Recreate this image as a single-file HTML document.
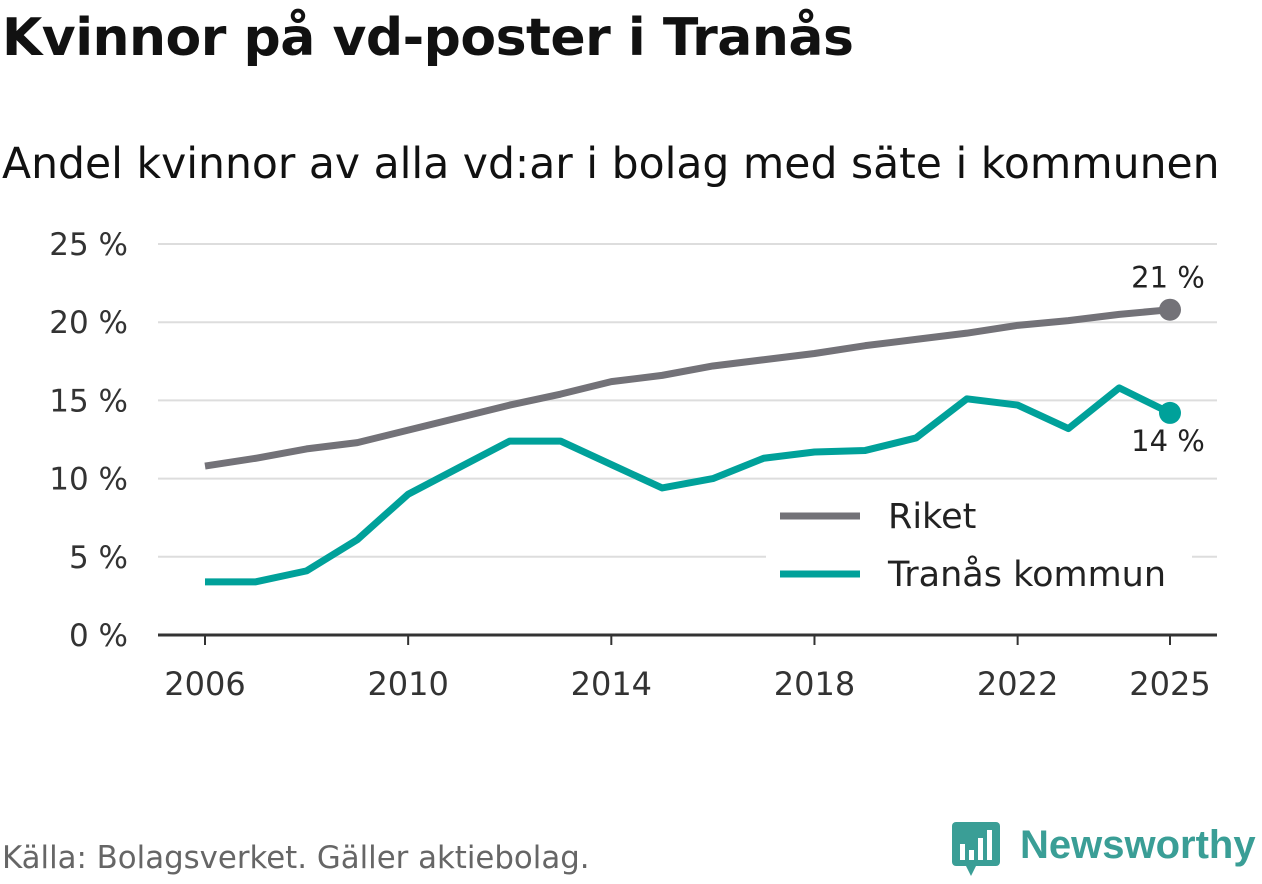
<!DOCTYPE html>
<html><head><meta charset="utf-8"><style>
body{margin:0;width:1262px;height:879px;background:#fff;font-family:"DejaVu Sans","Liberation Sans",sans-serif;overflow:hidden;position:relative}
#title{position:absolute;left:2px;top:8px;font-size:52px;font-weight:bold;color:#111;letter-spacing:-0.5px}
#sub{position:absolute;left:2px;top:140px;font-size:42.5px;color:#111}
#src{position:absolute;left:2px;top:840px;font-size:30.8px;color:#666}
#logo{position:absolute;left:952px;top:820px}
</style></head><body>
<div id="title">Kvinnor på vd-poster i Tranås</div>
<div id="sub">Andel kvinnor av alla vd:ar i bolag med säte i kommunen</div>
<svg id="chart" width="1262" height="879" style="position:absolute;left:0;top:0"></svg>
<div id="src">Källa: Bolagsverket. Gäller aktiebolag.</div>
<div id="logo">
<svg width="310" height="60"><rect x="0" y="2" width="48" height="44" rx="4" fill="#3a9e96"/><polygon points="14,46 24,46 19,56" fill="#3a9e96"/>
<rect x="8" y="24" width="5" height="16" fill="#fff"/><rect x="17" y="30" width="5" height="10" fill="#fff"/><rect x="26" y="18" width="5" height="22" fill="#fff"/><rect x="35" y="10" width="5" height="30" fill="#fff"/>
<text x="68" y="38" font-size="40" font-weight="bold" fill="#3a9e96" font-family="Liberation Sans, sans-serif">Newsworthy</text></svg></div>
<script>
const years=[2006,2007,2008,2009,2010,2011,2012,2013,2014,2015,2016,2017,2018,2019,2020,2021,2022,2023,2024,2025];
const riket=[10.8,11.3,11.9,12.3,13.1,13.9,14.7,15.4,16.2,16.6,17.2,17.6,18.0,18.5,18.9,19.3,19.8,20.1,20.5,20.8];
const tranas=[3.4,3.4,4.1,6.1,9.0,10.7,12.4,12.4,10.9,9.4,10.0,11.3,11.7,11.8,12.6,15.1,14.7,13.2,15.8,14.2];
const yTicks=[0,5,10,15,20,25];
const xTicks=[2006,2010,2014,2018,2022,2025];
const svg=document.getElementById('chart');const NS='http://www.w3.org/2000/svg';
const x=v=>205+(v-2006)*(1170-205)/19;
const y=v=>635-v*(635-244)/25;
function mk(t,a,p){const e=document.createElementNS(NS,t);for(const k in a)e.setAttribute(k,a[k]);(p||svg).appendChild(e);return e;}
yTicks.forEach(t=>{
 if(t>0){const g=mk('line',{x1:158,x2:1217,y1:y(t),y2:y(t),stroke:'#ddd','stroke-width':2});
 
 }
 const l=mk('text',{x:128,y:y(t)+11,'text-anchor':'end','font-size':31,fill:'#333'});l.textContent=t+' %';
 
 
});
const ax=mk('line',{x1:158,x2:1217,y1:635,y2:635,stroke:'#333','stroke-width':3});


xTicks.forEach(t=>{
 mk('line',{x1:x(t),x2:x(t),y1:635,y2:645,stroke:'#333','stroke-width':2});
 const l=mk('text',{x:x(t),y:695,'text-anchor':'middle','font-size':32,fill:'#333'});l.textContent=t;
 
 
});
function series(vals,col,name){
 const p=mk('polyline',{points:vals.map((v,i)=>x(years[i])+','+y(v)).join(' '),fill:'none',stroke:col,'stroke-width':7,'stroke-linejoin':'round'});
 
 
 const c=mk('circle',{cx:x(years[years.length-1]),cy:y(vals[vals.length-1]),r:11,fill:col});
 
 
}
series(riket,'#737278','riket');series(tranas,'#00a19a','tranas');
const l1=mk('text',{x:1168,y:y(riket[19])-22,'text-anchor':'middle','font-size':29,fill:'#222'});l1.textContent=Math.round(riket[19])+' %';


const l2=mk('text',{x:1168,y:y(tranas[19])+38,'text-anchor':'middle','font-size':29,fill:'#222'});l2.textContent=Math.round(tranas[19])+' %';


const bg=mk('rect',{x:766,y:492,width:426,height:112,fill:'#fff'});


[['Riket','#737278',516],['Tranås kommun','#00a19a',574]].forEach(([n,c,yy])=>{
 mk('line',{x1:780,x2:860,y1:yy,y2:yy,stroke:c,'stroke-width':7});
 const t=mk('text',{x:888,y:yy+12,'font-size':35,fill:'#222'});t.textContent=n;
 
 
});
</script>
</body></html>
